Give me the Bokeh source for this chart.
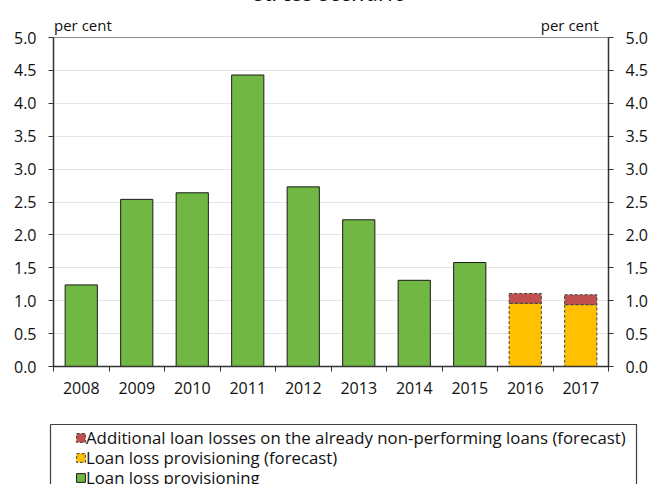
from bokeh.plotting import figure
from bokeh.layouts import column
from bokeh.models import (Range1d, LinearAxis, FixedTicker, NumeralTickFormatter, Grid,
                          Legend, LegendItem, ColumnDataSource)
from bokeh.embed import file_html
from bokeh.resources import INLINE

# ---- data ----
years = ["2008", "2009", "2010", "2011", "2012", "2013", "2014", "2015", "2016", "2017"]
provisioning = [1.24, 2.54, 2.64, 4.43, 2.73, 2.23, 1.31, 1.58, 0.0, 0.0]
provisioning_forecast = [0.0, 0.0, 0.0, 0.0, 0.0, 0.0, 0.0, 0.0, 0.96, 0.94]
additional_losses = [0.0, 0.0, 0.0, 0.0, 0.0, 0.0, 0.0, 0.0, 0.15, 0.15]
y_ticks = [0.0, 0.5, 1.0, 1.5, 2.0, 2.5, 3.0, 3.5, 4.0, 4.5, 5.0]
title_text = "stress scenario"
unit_text = "per cent"
label_add = "Additional loan losses on the already non-performing loans (forecast)"
label_fc = "Loan loss provisioning (forecast)"
label_prov = "Loan loss provisioning"

FONT = "Open Sans"
TXT = "#111111"
AXC = "#333333"
GREEN, GOLD, RED = "#71B743", "#FFC000", "#C0504D"
SHIFT = 28  # canvas starts above the window so the title is cut like the reference

n = len(years)
xc = [i + 0.5 for i in range(n)]
hist_idx = [i for i in range(n) if provisioning[i] > 0]
fc_idx = [i for i in range(n) if provisioning_forecast[i] > 0]

src_hist = ColumnDataSource(dict(x=[xc[i] for i in hist_idx], top=[provisioning[i] for i in hist_idx]))
src_fc = ColumnDataSource(dict(x=[xc[i] for i in fc_idx], top=[provisioning_forecast[i] for i in fc_idx]))
src_add = ColumnDataSource(dict(x=[xc[i] for i in fc_idx],
                                bottom=[provisioning_forecast[i] for i in fc_idx],
                                top=[provisioning_forecast[i] + additional_losses[i] for i in fc_idx]))

p = figure(width=651, height=410 + SHIFT, output_backend="svg", toolbar_location=None,
           x_range=Range1d(0, n), y_range=Range1d(0, 5),
           min_border_left=53, min_border_right=39, min_border_top=37 + SHIFT, min_border_bottom=44,
           x_axis_type=None, y_axis_type=None)
p.frame_align = False
p.outline_line_color = "#8C8C8C"
p.outline_line_width = 1

BW = 0.58
STY_H = dict(fill_color=GREEN, line_color="#1a1a1a", line_width=1)
STY_F = dict(fill_color=GOLD, line_color="#404040", line_width=1, line_dash="3 2")
STY_A = dict(fill_color=RED, line_color="#404040", line_width=1, line_dash="3 2")

p.add_layout(Grid(dimension=1, ticker=FixedTicker(ticks=y_ticks[1:-1]),
                  grid_line_color="#C8C8C8", grid_line_dash="1 1", grid_line_width=1))

p.vbar(x="x", top="top", bottom=0, width=BW, source=src_hist, **STY_H)
p.vbar(x="x", top="top", bottom=0, width=BW, source=src_fc, **STY_F)
p.vbar(x="x", top="top", bottom="bottom", width=BW, source=src_add, **STY_A)


def y_axis():
    ax = LinearAxis(ticker=FixedTicker(ticks=y_ticks, minor_ticks=[]),
                    formatter=NumeralTickFormatter(format="0.0"))
    ax.axis_line_color = AXC
    ax.axis_line_width = 1.5
    ax.major_tick_line_color = AXC
    ax.major_tick_out = 5
    ax.major_tick_in = 0
    ax.minor_tick_line_color = None
    ax.major_label_text_font = FONT
    ax.major_label_text_font_size = "16px"
    ax.major_label_text_color = TXT
    ax.major_label_standoff = 12
    return ax


p.add_layout(y_axis(), "left")
p.add_layout(y_axis(), "right")

xax = LinearAxis(ticker=FixedTicker(ticks=xc, minor_ticks=list(range(n + 1))),
                 major_label_overrides={xc[i]: years[i] for i in range(n)})
xax.axis_line_color = AXC
xax.axis_line_width = 1.5
xax.major_tick_line_color = None
xax.major_tick_out = 0
xax.minor_tick_line_color = AXC
xax.minor_tick_out = 5
xax.minor_tick_in = 0
xax.major_label_text_font = FONT
xax.major_label_text_font_size = "16px"
xax.major_label_text_color = TXT
xax.major_label_standoff = 10
p.add_layout(xax, "below")


def text_axis(ticks, labels, size, style, standoff):
    ax = LinearAxis(ticker=FixedTicker(ticks=ticks, minor_ticks=[]),
                    major_label_overrides=dict(zip(ticks, labels)))
    ax.axis_line_color = None
    ax.major_tick_line_color = None
    ax.major_tick_out = 0
    ax.major_tick_in = 0
    ax.minor_tick_line_color = None
    ax.major_label_text_font = FONT
    ax.major_label_text_font_size = size
    ax.major_label_text_font_style = style
    ax.major_label_text_color = TXT
    ax.major_label_standoff = standoff
    return ax


# "per cent" above both value axes, then the (cut) title further up
p.add_layout(text_axis([0.53, 9.30], [unit_text, unit_text], "15px", "normal", 3), "above")
p.add_layout(text_axis([n / 2], [title_text], "23.5px", "italic", 4), "above")

# ---- legend panel (box drawn by three axis lines, bottom is cut by the window) ----
pl = figure(width=651, height=74, output_backend="svg", toolbar_location=None,
            x_range=Range1d(-3, -2), y_range=Range1d(-3, -2),
            min_border_left=50, min_border_right=15, min_border_top=14, min_border_bottom=0,
            x_axis_type=None, y_axis_type=None)
pl.frame_align = False
pl.outline_line_color = None
for side in ("left", "right", "above"):
    a = LinearAxis(ticker=FixedTicker(ticks=[], minor_ticks=[]))
    a.axis_line_color = "#404040"
    a.axis_line_width = 1.2
    a.major_tick_line_color = None
    a.minor_tick_line_color = None
    a.major_tick_out = 0
    a.major_label_text_font_size = "0px"
    a.major_label_standoff = 0
    pl.add_layout(a, side)

# legend swatches come from the same bar sources (the bars themselves lie outside this view)
lr_add = pl.vbar(x="x", top="top", bottom="bottom", width=BW, source=src_add, **STY_A)
lr_fc = pl.vbar(x="x", top="top", bottom=0, width=BW, source=src_fc, **STY_F)
lr_prov = pl.vbar(x="x", top="top", bottom=0, width=BW, source=src_hist, **STY_H)

# one legend per row so the rows sit 20 px apart, as in the reference
ROW_Y = [35, 15, -5]
for (lab, rend), ry in zip([(label_add, lr_add), (label_fc, lr_fc), (label_prov, lr_prov)], ROW_Y):
    lg = Legend(items=[LegendItem(label=lab, renderers=[rend])],
                location=(25, ry), orientation="vertical",
                padding=0, margin=0, spacing=0,
                glyph_width=11, glyph_height=11, label_standoff=0, label_height=24,
                label_text_font=FONT, label_text_font_size="16.8px", label_text_color=TXT,
                border_line_color=None, background_fill_alpha=0)
    pl.add_layout(lg, "center")

layout = column(p, pl, spacing=0, margin=(-SHIFT, 0, 0, 0))
open("out.html", "w").write(file_html(layout, INLINE))
